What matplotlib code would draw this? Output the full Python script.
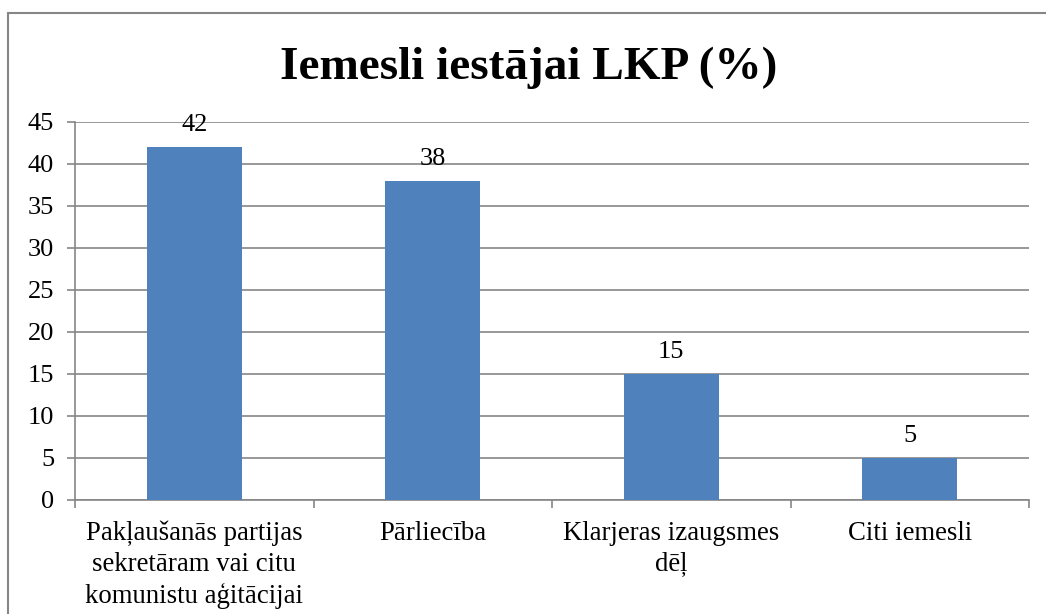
import matplotlib
matplotlib.use('Agg')
import matplotlib.pyplot as plt
from matplotlib.patches import Rectangle

# Chart data
categories = ['Pakļaušanās partijas\nsekretāram vai citu\nkomunistu aģitācijai',
              'Pārliecība',
              'Klarjeras izaugsmes\ndēļ',
              'Citi iemesli']
values = [42, 38, 15, 5]
y_ticks = [0, 5, 10, 15, 20, 25, 30, 35, 40, 45]

plt.rcParams['font.family'] = ['Liberation Serif', 'DejaVu Serif']

W, H = 1046, 614
fig = plt.figure(figsize=(W / 100, H / 100), dpi=100)
ax = fig.add_axes([75 / W, 1 - 500 / H, (1029 - 75) / W, (500 - 122) / H])

grid_col = '#868686'
x = range(len(values))
bars = ax.bar(x, values, width=0.4, color='#4F81BD', zorder=3)

# value labels above bars
for xi, v in zip(x, values):
    ax.annotate(str(v), (xi, v), xytext=(0, 8), textcoords='offset points',
                ha='center', va='bottom', fontsize=19)

ax.set_xlim(-0.5, len(values) - 0.5)
ax.set_ylim(0, 45)
ax.set_yticks(y_ticks)
ax.set_xticks(list(x))
ax.set_xticklabels(categories, fontsize=19.3, linespacing=1.29)
ax.set_xticks([i - 0.5 for i in range(len(values) + 1)], minor=True)
ax.tick_params(axis='x', which='major', length=0, pad=15)
ax.tick_params(axis='x', which='minor', length=6, color=grid_col, width=1.2)
ax.tick_params(axis='y', length=6, color=grid_col, width=1.2, labelsize=19, pad=9)

ax.yaxis.grid(True, color=grid_col, linewidth=1.2, zorder=0)
for s in ['top', 'right']:
    ax.spines[s].set_visible(False)
for s in ['left', 'bottom']:
    ax.spines[s].set_color(grid_col)
    ax.spines[s].set_linewidth(1.2)

fig.text(529 / W, 1 - 68 / H, 'Iemesli iestājai LKP (%)', ha='center', va='center',
         fontsize=34, fontweight='bold')

# outer chart border (cropped at right and bottom)
fig.patches.append(Rectangle((8 / W, -0.2), 1.2, 1.2 - 13 / H, transform=fig.transFigure,
                             fill=False, edgecolor=grid_col, linewidth=1.5))

fig.savefig('out.png', dpi=100)
